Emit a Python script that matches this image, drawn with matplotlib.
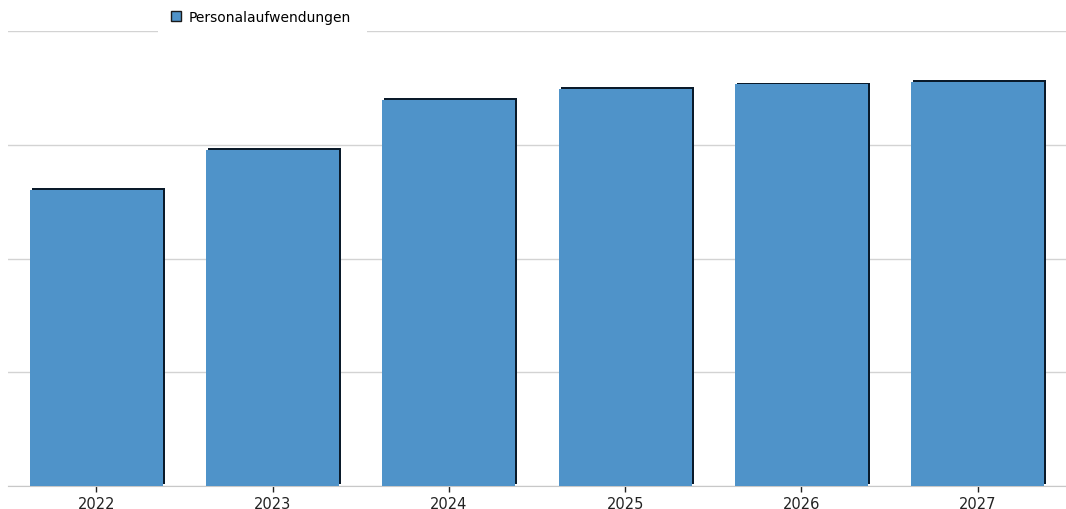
import matplotlib
matplotlib.use("Agg")
import matplotlib.pyplot as plt
import matplotlib.patheffects as pe
from matplotlib.patches import Patch, Rectangle

years = ["2022", "2023", "2024", "2025", "2026", "2027"]
personal = [260, 295, 339, 349, 353, 355]
series_name = "Personalaufwendungen"

W, H = 1066, 510
fig = plt.figure(figsize=(W/100, H/100), dpi=100)
ax = fig.add_axes([8/W, 1-487/H, 1-8/W, (487-32)/H])

x = range(len(years))
bars = ax.bar(x, personal, width=0.755, color="#4F93C9", zorder=3)
for b in bars:
    b.set_path_effects([pe.SimplePatchShadow(offset=(1.4, 1.4), shadow_rgbFace="#0a1a2a", alpha=1.0), pe.Normal()])

ax.set_xlim(-0.5, len(years) - 0.5)
ax.set_ylim(0, 400)
ax.set_yticks([0, 100, 200, 300, 400])
ax.yaxis.grid(True, color="#d3d3d3", linewidth=1.0, zorder=0)
ax.tick_params(axis="y", left=False, labelleft=False)
ax.set_xticks(list(x))
ax.set_xticklabels(years, fontsize=10.5, color="#222222")
ax.tick_params(axis="x", length=4, width=1, color="#222222", pad=3)
for s in ["top", "left", "right"]:
    ax.spines[s].set_visible(False)
ax.spines["bottom"].set_color("#c8c8c8")
ax.set_axisbelow(True)

# white box behind legend (covers the top gridline as in the reference)
fig.patches.append(Rectangle((158/W, 1-35/H), (367-158)/W, 33/H, transform=fig.transFigure,
                             facecolor="white", edgecolor="none", zorder=2))

handle = Patch(facecolor="#4F93C9", edgecolor="#1a1a1a", linewidth=1.0)
leg = fig.legend([handle], [series_name], loc="center left", bbox_to_anchor=(168/W, 1-18/H),
                 frameon=False, fontsize=10, handlelength=0.75, handleheight=0.75, handletextpad=0.5,
                 borderpad=0.2, borderaxespad=0)
leg.set_zorder(5)

fig.savefig("out.png", dpi=100)
